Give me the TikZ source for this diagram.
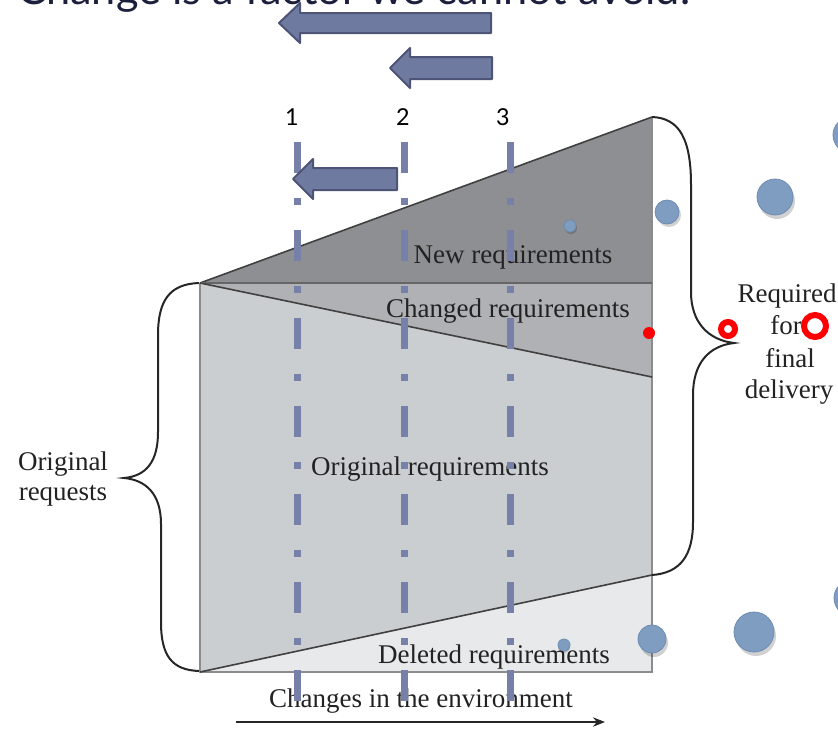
\documentclass[tikz,border=0pt]{standalone}
\usepackage{graphicx}
\usepackage{fontspec}
\setmainfont{Liberation Serif}
\newfontfamily\gillfont{Lato}
\usetikzlibrary{arrows.meta}
\definecolor{newreq}{HTML}{8E8F92}
\definecolor{chgreq}{HTML}{AFB1B4}
\definecolor{origreq}{HTML}{CBCED1}
\definecolor{delreq}{HTML}{E7E9EB}
\definecolor{vblue}{HTML}{7680A9}
\definecolor{arrfill}{HTML}{6F7AA0}
\definecolor{arrdraw}{HTML}{4E5475}
\definecolor{titlecol}{HTML}{1B1F3B}
\definecolor{dotblue}{HTML}{7E9DC1}
\definecolor{dotedge}{HTML}{6E8CB1}
\definecolor{txtgray}{HTML}{222222}
\begin{document}
\begin{tikzpicture}[x=0.75pt,y=-0.75pt,
  lbl/.style={inner sep=0pt, anchor=base, text=txtgray, font=\fontsize{20.25}{24}\selectfont},
  numlbl/.style={inner sep=0pt, anchor=base, text=black, font=\gillfont\fontsize{17.5}{20}\selectfont},
  vline/.style={draw=vblue, line width=5.25pt, dash pattern=on 23.25pt off 18.75pt on 5.25pt off 18.75pt},
  barr/.style={fill=arrfill, draw=arrdraw, line width=1.5pt, line join=round},
  brace/.style={draw=black!85, line width=1.5pt},
  edge/.style={draw=black!45, line width=1.2pt},
  diag/.style={draw=black!75, line width=1.2pt},
  bdot/.style={fill=dotblue, draw=dotedge, line width=0.6pt},
  bshadow/.style={fill=black, opacity=0.18},
  redring/.style={draw=red, line width=4.5pt}
]
\useasboundingbox (0,0) rectangle (838,732);
\clip (0,0) rectangle (838,732);

% corners of the main shape
\coordinate (LT) at (200,283);
\coordinate (LB) at (200,672);
\coordinate (RT) at (652,117);
\coordinate (RH) at (652,283);
\coordinate (RC) at (652,377);
\coordinate (RD) at (652,575);
\coordinate (RB) at (652,672);

% title (cut off at the top, as in the reference)
\node[anchor=base west, inner sep=0pt, text=titlecol] (title) at (17,4)
  {\resizebox{504.75pt}{!}{\gillfont\fontsize{28}{30}\selectfont Change is a factor we cannot avoid.}};

% region fills
\fill[newreq] (LT) -- (RT) -- (RH) -- cycle;
\fill[chgreq] (LT) -- (RH) -- (RC) -- cycle;
\fill[origreq] (LT) -- (RC) -- (RD) -- (LB) -- cycle;
\fill[delreq] (LB) -- (RD) -- (RB) -- cycle;

% outline
\draw[edge] (LT) -- (LB) -- (RB) -- (RT);
\draw[diag] (LT) -- (RT);
\draw[draw=black!60, line width=1.2pt] (LT) -- (RH);
\draw[diag] (LT) -- (RC);
\draw[diag] (LB) -- (RD);

% region labels
\node[lbl] (newlbl) at (513,263) {New requirements};
\node[lbl] (chglbl) at (508,317) {Changed requirements};
\node[lbl] (origlbl) at (430,475) {Original requirements};
\node[lbl] (dellbl) at (494,663) {Deleted requirements};
\node[lbl] (envlbl) at (421,707) {Changes in the environment};

% left brace and label
\draw[brace] (199,283) .. controls (170,284) and (158,300) .. (158,335)
  -- (158,432) .. controls (158,462) and (146,476) .. (124,478)
  .. controls (146,480) and (161,494) .. (161,524)
  -- (161,622) .. controls (161,656) and (172,670) .. (199,671);
\node[lbl] (orig1) at (63,470) {Original};
\node[lbl] (orig2) at (63,500) {requests};

% right brace and label
\draw[brace] (RT) .. controls (680,118) and (691,140) .. (691,185)
  -- (691,292) .. controls (691,322) and (708,340) .. (734,343)
  .. controls (708,346) and (693,364) .. (693,395)
  -- (693,522) .. controls (693,556) and (680,573) .. (RD);
\node[lbl] (req1) at (787,302) {Required};
\node[lbl] (req2) at (786,334) {for};
\node[lbl] (req3) at (790,367) {final};
\node[lbl] (req4) at (789,398) {delivery};

% environment arrow
\coordinate (envL) at (236,722);
\coordinate (envR) at (605,722);
\draw[draw=black!85, line width=1.5pt, -{Stealth[length=9pt,width=7pt]}] (envL) -- (envR);

% background dots
\fill[bshadow] (571,228) circle (6);
\fill[bdot] (570,226) circle (6);
\fill[bshadow] (564,647) circle (6);
\fill[bdot] (564,645) circle (6);
\fill[bshadow] (669,215) circle (12);
\fill[bdot] (667,212) circle (12);
\fill[bshadow] (777,201) circle (18);
\fill[bdot] (775,197) circle (18);
\fill[bshadow] (853,139) circle (18);
\fill[bdot] (851,135) circle (18);
\fill[bshadow] (654,643) circle (14);
\fill[bdot] (652,639) circle (14);
\fill[bshadow] (756,636) circle (20);
\fill[bdot] (754,632) circle (20);
\fill[bshadow] (854,602) circle (18);
\fill[bdot] (852,598) circle (18);

% numbers
\node[numlbl] (n1) at (292,125) {1};
\node[numlbl] (n2) at (403,125) {2};
\node[numlbl] (n3) at (503,125) {3};

% vertical dash-dot lines
\coordinate (v1t) at (297,142); \coordinate (v1b) at (297,701);
\coordinate (v2t) at (404,142); \coordinate (v2b) at (404,701);
\coordinate (v3t) at (510,142); \coordinate (v3b) at (510,701);
\draw[vline] (v1t) -- (v1b);
\draw[vline] (v2t) -- (v2b);
\draw[vline] (v3t) -- (v3b);

% block arrows
\path[barr] (279,23) -- (300,3) -- (300,13) -- (491,13) -- (491,33) -- (300,33) -- (300,43) -- cycle;
\path[barr] (390,68) -- (410,48) -- (410,57) -- (492,57) -- (492,79) -- (410,79) -- (410,88) -- cycle;
\path[barr] (293,179) -- (313,159) -- (313,168) -- (397,168) -- (397,190) -- (313,190) -- (313,199) -- cycle;

% red marks
\fill[red] (649,333) circle (6);
\draw[redring] (728,329) circle (7);
\draw[redring] (815,326) circle (11);
\end{tikzpicture}
\end{document}
